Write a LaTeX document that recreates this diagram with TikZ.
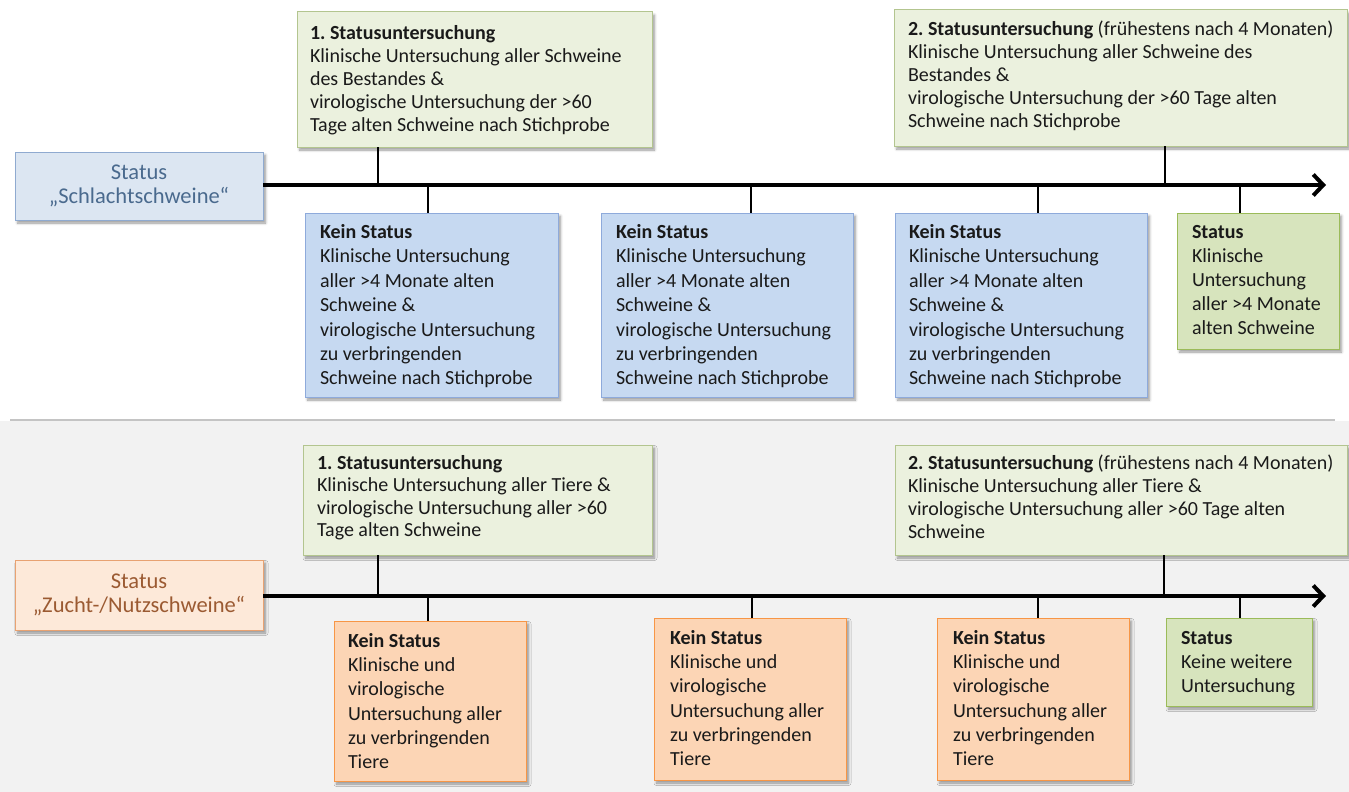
\documentclass[tikz,border=0pt]{standalone}
\usepackage{fontspec}
\setmainfont{Carlito}
\frenchspacing
\usetikzlibrary{arrows.meta,shadows.blur}
\definecolor{bodytext}{HTML}{1A1A1A}
\definecolor{statblue}{HTML}{4A6A8E}
\definecolor{statbrown}{HTML}{9B5A32}
\definecolor{sbfill}{HTML}{DCE6F2}
\definecolor{sbdraw}{HTML}{8FAAD0}
\definecolor{bfill}{HTML}{C6D9F1}
\definecolor{bdraw}{HTML}{8EAADB}
\definecolor{gfill}{HTML}{EBF1DE}
\definecolor{gdraw}{HTML}{B3C58F}
\definecolor{gsfill}{HTML}{D7E4BD}
\definecolor{gsdraw}{HTML}{9BBB59}
\definecolor{ofill}{HTML}{FCD5B5}
\definecolor{odraw}{HTML}{F79646}
\definecolor{osfill}{HTML}{FDE9D9}
\definecolor{osdraw}{HTML}{E8A272}
\definecolor{lowbg}{HTML}{F2F2F2}
\definecolor{sepgray}{HTML}{C4C4C4}
\tikzset{
  boxbase/.style={inner sep=0pt, outer sep=0pt, anchor=north west, line width=1pt,
    blur shadow={shadow blur steps=6, shadow xshift=2.5pt, shadow yshift=-3pt, shadow blur radius=2.5pt, shadow opacity=40}},
  statbluebox/.style={boxbase, fill=sbfill, draw=sbdraw},
  bluebox/.style={boxbase, fill=bfill, draw=bdraw},
  greenbox/.style={boxbase, fill=gfill, draw=gdraw},
  greenstat/.style={boxbase, fill=gsfill, draw=gsdraw},
  orangebox/.style={boxbase, fill=ofill, draw=odraw},
  statorangebox/.style={boxbase, fill=osfill, draw=osdraw},
  txt/.style={inner sep=0pt, outer sep=0pt, anchor=north west, align=left, text=bodytext},
  stattxt/.style={inner sep=0pt, align=center, font=\fontsize{22.5}{23.5}\selectfont},
  conn/.style={line width=2.8pt, draw=black},
  tline/.style={line width=4pt, draw=black, -{Straight Barb[length=10pt, width=21pt, line width=4pt]}},
  sepline/.style={line width=1.4pt, draw=sepgray}
}
\begin{document}
\begin{tikzpicture}[x=1pt,y=-1pt]
\useasboundingbox (0,0) rectangle (1349,792);
% lower background
\fill[lowbg] (0,421) rectangle (1349,792);
\coordinate (sepL) at (10,420);
\coordinate (sepR) at (1335,420);
\draw[sepline] (sepL) -- (sepR);

% ===== upper section =====
\node[greenbox, minimum width=355pt, minimum height=135pt] (g1) at (297,12) {};
\node[greenbox, minimum width=453pt, minimum height=136pt] (g2) at (894,10) {};
\node[statbluebox, minimum width=248pt, minimum height=68pt] (s1) at (15,152) {};
\node[bluebox, minimum width=253pt, minimum height=184pt] (b1) at (305,213) {};
\node[bluebox, minimum width=252pt, minimum height=184pt] (b2) at (601,213) {};
\node[bluebox, minimum width=252pt, minimum height=184pt] (b3) at (895,213) {};
\node[greenstat, minimum width=162pt, minimum height=136pt] (gs1) at (1177,213) {};

\node[stattxt, text=statblue] (s1t) at (s1.center) {Status\\„Schlachtschweine“};

\node[txt, font=\fontsize{20}{23}\selectfont] (g1t) at (310,22.9) {\strut\textbf{1. Statusuntersuchung}\\Klinische Untersuchung aller Schweine\\des Bestandes \&\\virologische Untersuchung der >60\\Tage alten Schweine nach Stichprobe};
\node[txt, font=\fontsize{20}{23}\selectfont] (g2t) at (908,18.9) {\strut\textbf{2. Statusuntersuchung} (frühestens nach 4 Monaten)\\Klinische Untersuchung aller Schweine des\\Bestandes \&\\virologische Untersuchung der >60 Tage alten\\Schweine nach Stichprobe};
\node[txt, font=\fontsize{20}{24.4}\selectfont] (b1t) at (320,221.4) {\strut\textbf{Kein Status}\\Klinische Untersuchung\\aller >4 Monate alten\\Schweine \&\\virologische Untersuchung\\zu verbringenden\\Schweine nach Stichprobe};
\node[txt, font=\fontsize{20}{24.4}\selectfont] (b2t) at (616,221.4) {\strut\textbf{Kein Status}\\Klinische Untersuchung\\aller >4 Monate alten\\Schweine \&\\virologische Untersuchung\\zu verbringenden\\Schweine nach Stichprobe};
\node[txt, font=\fontsize{20}{24.4}\selectfont] (b3t) at (909,221.4) {\strut\textbf{Kein Status}\\Klinische Untersuchung\\aller >4 Monate alten\\Schweine \&\\virologische Untersuchung\\zu verbringenden\\Schweine nach Stichprobe};
\node[txt, font=\fontsize{20}{24}\selectfont] (gs1t) at (1192,221.7) {\strut\textbf{Status}\\Klinische\\Untersuchung\\aller >4 Monate\\alten Schweine};

\coordinate (e1) at (1326,185);
\coordinate (u1) at (378,185);
\coordinate (u2) at (1165,185);
\coordinate (d1) at (428,185);
\coordinate (d2) at (751,185);
\coordinate (d3) at (1038,185);
\coordinate (d4) at (1240,185);
\draw[conn] (g1.south -| u1) -- (u1);
\draw[conn] (g2.south -| u2) -- (u2);
\draw[conn] (d1) -- (b1.north -| d1);
\draw[conn] (d2) -- (b2.north -| d2);
\draw[conn] (d3) -- (b3.north -| d3);
\draw[conn] (d4) -- (gs1.north -| d4);
\draw[tline] (s1.east |- e1) -- (e1);

% ===== lower section =====
\node[greenbox, minimum width=349pt, minimum height=110pt] (g3) at (303,445) {};
\node[greenbox, minimum width=452pt, minimum height=110pt] (g4) at (895,445) {};
\node[statorangebox, minimum width=248pt, minimum height=70pt] (s2) at (15,560) {};
\node[orangebox, minimum width=192pt, minimum height=160pt] (o1) at (334,621) {};
\node[orangebox, minimum width=192pt, minimum height=162pt] (o2) at (654,618) {};
\node[orangebox, minimum width=192pt, minimum height=162pt] (o3) at (937,618) {};
\node[greenstat, minimum width=146pt, minimum height=88pt] (gs2) at (1166,618) {};

\node[stattxt, text=statbrown] (s2t) at (s2.center) {Status\\„Zucht-/Nutzschweine“};

\node[txt, font=\fontsize{20}{22.5}\selectfont] (g3t) at (317,453.7) {\strut\textbf{1. Statusuntersuchung}\\Klinische Untersuchung aller Tiere \&\\virologische Untersuchung aller >60\\Tage alten Schweine};
\node[txt, font=\fontsize{20}{23}\selectfont] (g4t) at (908,453.4) {\strut\textbf{2. Statusuntersuchung} (frühestens nach 4 Monaten)\\Klinische Untersuchung aller Tiere \&\\virologische Untersuchung aller >60 Tage alten\\Schweine};
\node[txt, font=\fontsize{20}{24.2}\selectfont] (o1t) at (348,630.6) {\strut\textbf{Kein Status}\\Klinische und\\virologische\\Untersuchung aller\\zu verbringenden\\Tiere};
\node[txt, font=\fontsize{20}{24.2}\selectfont] (o2t) at (670,627.6) {\strut\textbf{Kein Status}\\Klinische und\\virologische\\Untersuchung aller\\zu verbringenden\\Tiere};
\node[txt, font=\fontsize{20}{24.2}\selectfont] (o3t) at (953,627.6) {\strut\textbf{Kein Status}\\Klinische und\\virologische\\Untersuchung aller\\zu verbringenden\\Tiere};
\node[txt, font=\fontsize{20}{24}\selectfont] (gs2t) at (1181,627.7) {\strut\textbf{Status}\\Keine weitere\\Untersuchung};

\coordinate (e2) at (1326,596);
\coordinate (v1) at (378,596);
\coordinate (v2) at (1164,596);
\coordinate (w1) at (428,596);
\coordinate (w2) at (752,596);
\coordinate (w3) at (1038,596);
\coordinate (w4) at (1240,596);
\draw[conn] (g3.south -| v1) -- (v1);
\draw[conn] (g4.south -| v2) -- (v2);
\draw[conn] (w1) -- (o1.north -| w1);
\draw[conn] (w2) -- (o2.north -| w2);
\draw[conn] (w3) -- (o3.north -| w3);
\draw[conn] (w4) -- (gs2.north -| w4);
\draw[tline] (s2.east |- e2) -- (e2);
\end{tikzpicture}
\end{document}
